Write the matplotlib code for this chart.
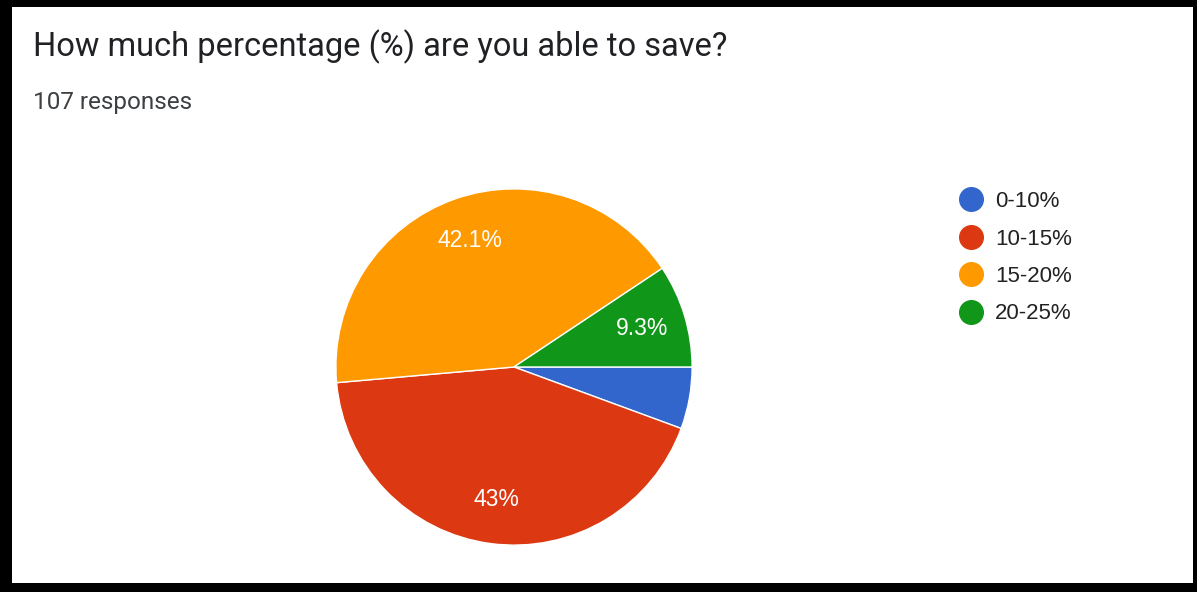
import matplotlib
matplotlib.use("Agg")
import matplotlib.pyplot as plt
from matplotlib.patches import Rectangle
from matplotlib.lines import Line2D

plt.rcParams['font.family'] = ['Roboto', 'DejaVu Sans']

# survey answers
ranges = ['0-10%', '10-15%', '15-20%', '20-25%']
counts = [6, 46, 45, 10]
colors = ['#3366CC', '#DC3912', '#FF9900', '#109618']
title = 'How much percentage (%) are you able to save?'
n_responses = sum(counts)

W, H = 1197, 592
fig = plt.figure(figsize=(W / 100, H / 100), dpi=100, facecolor='black')

# white card inside the black frame
fig.patches.append(Rectangle((12 / W, 9 / H), (1193 - 12) / W, (585 - 9) / H,
                             transform=fig.transFigure, facecolor='white',
                             edgecolor='none', zorder=-5))

fig.text(33 / W, 1 - 56 / H, title, fontsize=23.5, color='#202124', va='baseline')
fig.text(33 / W, 1 - 109 / H, f'{n_responses} responses', fontsize=17.5,
         color='#3c4043', va='baseline')


def pct_label(p):
    if p < 6:
        return ''
    s = f'{p:.1f}'
    return s[:-2] + '%' if s.endswith('.0') else s + '%'


ax = fig.add_axes([335 / W, 1 - 546 / H, 358 / W, 358 / H])
ax.set_zorder(2)
wedges, texts, autotexts = ax.pie(counts, colors=colors, startangle=0,
                                  counterclock=False, autopct=pct_label,
                                  pctdistance=0.75,
                                  wedgeprops=dict(edgecolor='white', linewidth=1),
                                  textprops=dict(color='white', fontsize=16.5,
                                                 family=['Liberation Sans', 'DejaVu Sans']))
ax.set_xlim(-1.005, 1.005)
ax.set_ylim(-1.005, 1.005)
ax.set_aspect('equal')
ax.axis('off')

handles = [Line2D([], [], marker='o', linestyle='none', markersize=17,
                  markerfacecolor=c, markeredgecolor=c) for c in colors]
leg = fig.legend(handles, ranges, loc='upper left', bbox_to_anchor=(951 / W, 1 - 180 / H),
                 frameon=False, labelspacing=0.74, handlelength=0.8,
                 handletextpad=0.68, borderpad=0, labelcolor='#222222',
                 prop=dict(family=['Liberation Sans', 'DejaVu Sans'], size=16))
leg.set_zorder(3)

fig.savefig('out.png', dpi=100, facecolor='black')
